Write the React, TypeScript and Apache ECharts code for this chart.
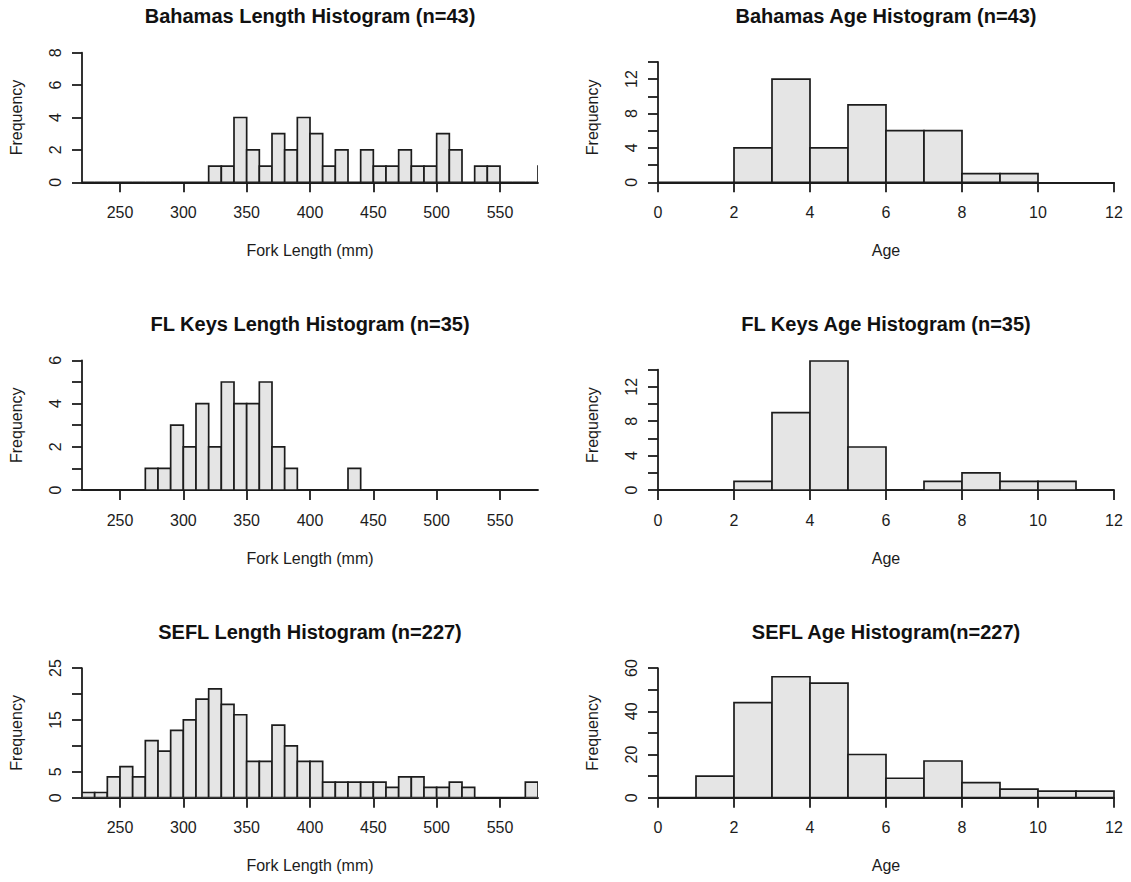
import React, { useEffect, useRef } from "react";
import * as echarts from "echarts";

// ---- data ----
const lengthBinStart = 220;
const lengthBinWidth = 10;
const ageBinStart = 0;
const ageBinWidth = 1;

const bahamasLengthCounts = [0, 0, 0, 0, 0, 0, 0, 0, 0, 0, 1, 1, 4, 2, 1, 3, 2, 4, 3, 1, 2, 0, 2, 1, 1, 2, 1, 1, 3, 2, 0, 1, 1, 0, 0, 0, 1];
const flKeysLengthCounts = [0, 0, 0, 0, 0, 1, 1, 3, 2, 4, 2, 5, 4, 4, 5, 2, 1, 0, 0, 0, 0, 1];
const seflLengthCounts = [1, 1, 4, 6, 4, 11, 9, 13, 15, 19, 21, 18, 16, 7, 7, 14, 10, 7, 7, 3, 3, 3, 3, 3, 2, 4, 4, 2, 2, 3, 2, 0, 0, 0, 0, 3];

const bahamasAgeCounts = [0, 0, 4, 12, 4, 9, 6, 6, 1, 1];
const flKeysAgeCounts = [0, 0, 1, 9, 15, 5, 0, 1, 2, 1, 1];
const seflAgeCounts = [0, 10, 44, 56, 53, 20, 9, 17, 7, 4, 3, 3];

const lengthTicks = [250, 300, 350, 400, 450, 500, 550];
const ageTicks = [0, 2, 4, 6, 8, 10, 12];

const bahamasLengthYTicks = [0, 2, 4, 6, 8];
const bahamasLengthYLabels = [0, 2, 4, 6, 8];
const flKeysLengthYTicks = [0, 1, 2, 3, 4, 5, 6];
const flKeysLengthYLabels = [0, 2, 4, 6];
const seflLengthYTicks = [0, 5, 10, 15, 20, 25];
const seflLengthYLabels = [0, 5, 15, 25];
const ageYTicks = [0, 2, 4, 6, 8, 10, 12, 14];
const ageYLabels = [0, 4, 8, 12];
const seflAgeYTicks = [0, 10, 20, 30, 40, 50, 60];
const seflAgeYLabels = [0, 20, 40, 60];

const titles = [
  "Bahamas Length Histogram (n=43)",
  "Bahamas Age Histogram (n=43)",
  "FL Keys Length Histogram (n=35)",
  "FL Keys Age Histogram (n=35)",
  "SEFL Length Histogram (n=227)",
  "SEFL Age Histogram(n=227)",
];

const FONT = "'Liberation Sans', Arial, sans-serif";
const INK = "#1c1c1c";

function toBins(counts: number[], start: number, width: number) {
  return counts.map((c, i) => [start + i * width, start + (i + 1) * width, c]);
}

export default function App() {
  const ref = useRef<HTMLDivElement>(null);

  useEffect(() => {
    if (!ref.current) return;
    const chart = echarts.init(ref.current, undefined, { renderer: "svg" });

    const colLeft = [82, 658];
    const plotW = 456;
    const rowBottom = [182.3, 490, 797.7];
    const plotH = 129.6;
    const ageUnit = 8.6;

    const panels = [
      { kind: "len", counts: bahamasLengthCounts, yMax: 8, yTicks: bahamasLengthYTicks, yLabels: bahamasLengthYLabels, full: true },
      { kind: "age", counts: bahamasAgeCounts, yMax: 14, yTicks: ageYTicks, yLabels: ageYLabels, full: false },
      { kind: "len", counts: flKeysLengthCounts, yMax: 6, yTicks: flKeysLengthYTicks, yLabels: flKeysLengthYLabels, full: true },
      { kind: "age", counts: flKeysAgeCounts, yMax: 14, yTicks: ageYTicks, yLabels: ageYLabels, full: false },
      { kind: "len", counts: seflLengthCounts, yMax: 25, yTicks: seflLengthYTicks, yLabels: seflLengthYLabels, full: true },
      { kind: "age", counts: seflAgeCounts, yMax: 60, yTicks: seflAgeYTicks, yLabels: seflAgeYLabels, full: true },
    ];

    const grids: any[] = [];
    const xAxes: any[] = [];
    const yAxes: any[] = [];
    const series: any[] = [];
    const graphics: any[] = [];

    const lineStyle = { color: INK, width: 1.8 };
    const labelStyle = { color: INK, fontFamily: FONT, fontSize: 16 };

    panels.forEach((p, i) => {
      const col = i % 2;
      const row = Math.floor(i / 2);
      const bottom = rowBottom[row];
      const isAge = p.kind === "age";
      const h = p.full ? plotH : p.yMax * ageUnit;
      const top = bottom - h;
      const left = colLeft[col];
      grids.push({ left, top, width: plotW, height: h, outerBoundsMode: "none", containLabel: false });

      xAxes.push({
        type: "value",
        gridIndex: i,
        min: isAge ? 0 : 220,
        max: isAge ? 12 : 580,
        splitLine: { show: false },
        axisLine: { show: true, onZero: false, lineStyle },
        axisTick: { show: true, length: 10, lineStyle, customValues: isAge ? ageTicks : lengthTicks },
        axisLabel: { ...labelStyle, margin: 22, customValues: isAge ? ageTicks : lengthTicks },
        name: isAge ? "Age" : "Fork Length (mm)",
        nameLocation: "middle",
        nameGap: 60,
        nameMoveOverlap: false,
        nameTextStyle: { ...labelStyle },
      });

      yAxes.push({
        type: "value",
        gridIndex: i,
        min: 0,
        max: p.yMax,
        splitLine: { show: false },
        axisLine: { show: true, lineStyle },
        axisTick: { show: true, length: 10, lineStyle, customValues: p.yTicks },
        axisLabel: { ...labelStyle, margin: 19, rotate: 90, customValues: p.yLabels },
        name: "Frequency",
        nameLocation: "middle",
        nameRotate: 90,
        nameGap: 58,
        nameMoveOverlap: false,
        nameTextStyle: { ...labelStyle, padding: p.full ? 0 : [0, 0, 0, 9.4] },
      });

      series.push({
        type: "custom",
        xAxisIndex: i,
        yAxisIndex: i,
        clip: !isAge,
        data: isAge ? toBins(p.counts, ageBinStart, ageBinWidth) : toBins(p.counts, lengthBinStart, lengthBinWidth),
        encode: { x: [0, 1], y: 2 },
        renderItem: (params: any, api: any) => {
          const x0 = api.value(0);
          const x1 = api.value(1);
          const c = api.value(2);
          const a = api.coord([x0, c]);
          const b = api.coord([x1, 0]);
          return {
            type: "rect",
            shape: { x: a[0], y: a[1], width: b[0] - a[0], height: b[1] - a[1] },
            style: { fill: "#e5e5e5", stroke: INK, lineWidth: 1.7 },
          };
        },
      });

      graphics.push({
        type: "text",
        x: left + plotW / 2,
        y: bottom - plotH - 36.5,
        style: {
          text: titles[i],
          font: `bold 20px ${FONT}`,
          fill: "#111",
          textAlign: "center",
          textVerticalAlign: "middle",
        },
      });
    });

    chart.setOption({
      animation: false,
      backgroundColor: "#fff",
      grid: grids,
      xAxis: xAxes,
      yAxis: yAxes,
      series,
      graphic: graphics,
    });

    return () => chart.dispose();
  }, []);

  return (
    <div
      ref={ref}
      style={{ position: "fixed", left: 0, top: 0, width: 1131, height: 882, background: "#fff" }}
    />
  );
}
